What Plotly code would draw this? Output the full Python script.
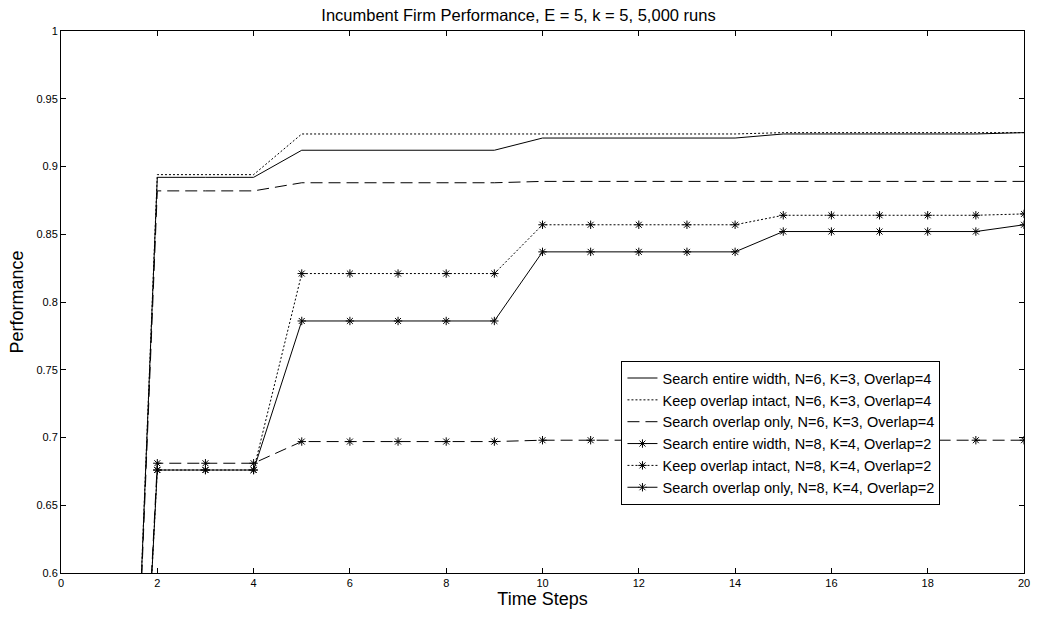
import plotly.graph_objects as go

steps = list(range(1, 21))

names = [
    "Search entire width, N=6, K=3, Overlap=4",
    "Keep overlap intact, N=6, K=3, Overlap=4",
    "Search overlap only, N=6, K=3, Overlap=4",
    "Search entire width, N=8, K=4, Overlap=2",
    "Keep overlap intact, N=8, K=4, Overlap=2",
    "Search overlap only, N=8, K=4, Overlap=2",
]

entire_n6 = [0.0, 0.892, 0.892, 0.892, 0.912, 0.912, 0.912, 0.912, 0.912, 0.921,
             0.921, 0.921, 0.921, 0.921, 0.924, 0.924, 0.924, 0.924, 0.924, 0.925]
intact_n6 = [0.0, 0.894, 0.894, 0.894, 0.924, 0.924, 0.924, 0.924, 0.924, 0.924,
             0.924, 0.924, 0.924, 0.924, 0.925, 0.925, 0.925, 0.925, 0.925, 0.925]
overlap_n6 = [0.0, 0.882, 0.882, 0.882, 0.888, 0.888, 0.888, 0.888, 0.888, 0.889,
              0.889, 0.889, 0.889, 0.889, 0.889, 0.889, 0.889, 0.889, 0.889, 0.889]
entire_n8 = [0.0, 0.676, 0.676, 0.676, 0.786, 0.786, 0.786, 0.786, 0.786, 0.837,
             0.837, 0.837, 0.837, 0.837, 0.852, 0.852, 0.852, 0.852, 0.852, 0.857]
intact_n8 = [0.0, 0.676, 0.676, 0.676, 0.821, 0.821, 0.821, 0.821, 0.821, 0.857,
             0.857, 0.857, 0.857, 0.857, 0.864, 0.864, 0.864, 0.864, 0.864, 0.865]
overlap_n8 = [0.0, 0.681, 0.681, 0.681, 0.697, 0.697, 0.697, 0.697, 0.697, 0.698,
              0.698, 0.698, 0.698, 0.698, 0.698, 0.698, 0.698, 0.698, 0.698, 0.698]

x_ticks = [0, 2, 4, 6, 8, 10, 12, 14, 16, 18, 20]
y_ticks = [0.6, 0.65, 0.7, 0.75, 0.8, 0.85, 0.9, 0.95, 1.0]
y_tick_labels = ["0.6", "0.65", "0.7", "0.75", "0.8", "0.85", "0.9", "0.95", "1"]

series = [entire_n6, intact_n6, overlap_n6, entire_n8, intact_n8, overlap_n8]
dashes = ["solid", "2px,2px", "12px,6px", "solid", "2px,2px", "12px,6px"]
with_markers = [False, False, False, True, True, True]

fig = go.Figure()
for name, vals, dash, mk in zip(names, series, dashes, with_markers):
    fig.add_trace(go.Scatter(
        x=steps, y=vals, name=name,
        mode="lines+markers" if mk else "lines",
        line=dict(color="black", width=1, dash=dash),
        marker=dict(symbol="asterisk-open", size=7, color="black",
                    line=dict(color="#333333", width=1)),
        cliponaxis=True,
    ))

font_family = "Liberation Sans, Arial, Helvetica, sans-serif"
axis_common = dict(
    showline=True, linecolor="black", linewidth=1, mirror="ticks",
    ticks="inside", ticklen=5, tickcolor="black", tickwidth=1,
    showgrid=False, zeroline=False,
    tickfont=dict(size=11, color="black", family=font_family),
)

fig.update_layout(
    width=1037, height=619,
    margin=dict(l=61, r=7, t=31, b=46),
    paper_bgcolor="white", plot_bgcolor="white",
    font=dict(family=font_family, color="black"),
    title=dict(text="Incumbent Firm Performance, E = 5, k = 5, 5,000 runs",
               x=0.5, xanchor="center", y=0.985, yanchor="top",
               font=dict(size=16.5, color="black")),
    xaxis=dict(range=[0, 20], tickvals=x_ticks,
               title=dict(text="Time Steps", font=dict(size=18), standoff=4),
               **axis_common),
    yaxis=dict(range=[0.6, 1.0], tickvals=y_ticks, ticktext=y_tick_labels,
               title=dict(text="Performance", font=dict(size=18), standoff=8),
               **axis_common),
    legend=dict(x=0.582, y=0.391, xanchor="left", yanchor="top",
                bgcolor="white", bordercolor="black", borderwidth=1,
                font=dict(size=14.5, color="black"), tracegroupgap=0),
    showlegend=True,
)

fig.write_html("out.html")
